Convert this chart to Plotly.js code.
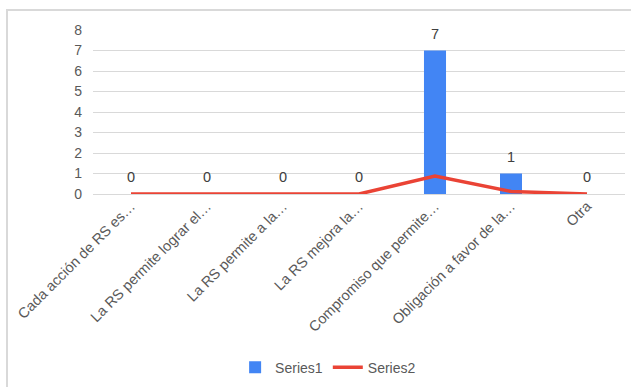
<!DOCTYPE html>
<html>
<head>
<meta charset="utf-8">
<script src="https://cdn.plot.ly/plotly-3.0.1.min.js"></script>
<style>
html,body{margin:0;padding:0;background:#fff;overflow:hidden;}
#frame{position:absolute;left:6px;top:9px;width:640px;height:400px;border:2px solid #d9d9d9;box-sizing:border-box;}
#chart{position:absolute;left:0;top:0;width:631px;height:387px;}
</style>
</head>
<body>
<div id="frame"></div>
<div id="chart"></div>
<script>
const categories = [
  "Cada acción de RS es…",
  "La RS permite lograr el…",
  "La RS permite a la…",
  "La RS mejora la…",
  "Compromiso que permite…",
  "Obligación a favor de la…",
  "Otra"
];
const series1 = [0, 0, 0, 0, 7, 1, 0];
const series2 = [0, 0, 0, 0, 0.875, 0.125, 0];
const yTicks = [0, 1, 2, 3, 4, 5, 6, 7, 8];

const fam = "Liberation Sans, Arial, sans-serif";

const traces = [
  {
    type: "bar",
    name: "Series1",
    x: categories,
    y: series1,
    marker: {color: "#4285F4"},
    hoverinfo: "x+y"
  },
  {
    type: "scatter",
    mode: "lines",
    name: "Series2",
    x: categories,
    y: series2,
    line: {color: "#EA4335", width: 3.5},
    hoverinfo: "x+y"
  }
];

const annotations = categories.map((c, i) => ({
  x: c,
  y: series1[i],
  xref: "x",
  yref: "y",
  text: String(series1[i]),
  showarrow: false,
  yanchor: "bottom",
  yshift: 7,
  font: {family: fam, color: "#404040", size: 14.5}
}));

const layout = {
  width: 631,
  height: 387,
  margin: {l: 93, r: 6, t: 30, b: 193},
  paper_bgcolor: "rgba(0,0,0,0)",
  plot_bgcolor: "rgba(0,0,0,0)",
  font: {family: fam, color: "#595959"},
  bargap: 0.71,
  showlegend: true,
  annotations: annotations,
  legend: {
    orientation: "h",
    xref: "container",
    yref: "container",
    x: 0.52,
    xanchor: "center",
    y: 0.05,
    yanchor: "middle",
    font: {family: fam, color: "#595959", size: 14},
    traceorder: "normal",
    itemwidth: 30
  },
  xaxis: {
    type: "category",
    tickangle: -45,
    tickfont: {family: fam, color: "#595959", size: 14.5},
    showgrid: false,
    zeroline: false,
    showline: false,
    ticks: "",
    automargin: false
  },
  yaxis: {
    range: [0, 8],
    tickvals: yTicks,
    ticktext: yTicks.map(String),
    tickfont: {family: fam, color: "#595959", size: 14},
    showgrid: true,
    gridcolor: "#d9d9d9",
    gridwidth: 1,
    zeroline: true,
    zerolinecolor: "#d9d9d9",
    zerolinewidth: 1,
    showline: false,
    ticks: "",
    ticklabelstandoff: 10,
    automargin: false
  }
};

Plotly.newPlot("chart", traces, layout, {displayModeBar: false, staticPlot: true});
</script>
</body>
</html>
